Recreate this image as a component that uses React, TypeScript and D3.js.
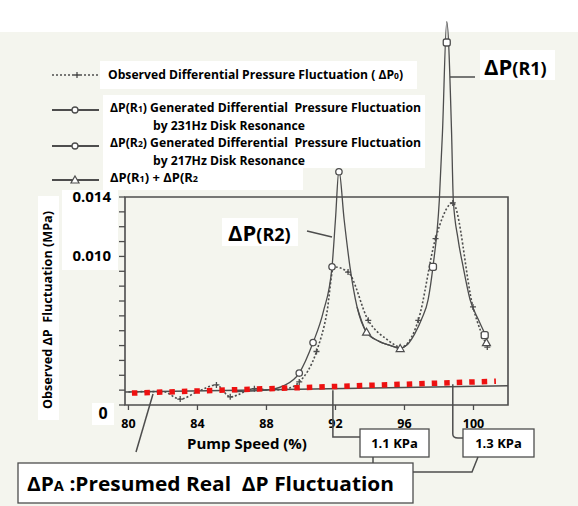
import React from 'react';
import * as d3 from 'd3';

// pump speed (%) / differential pressure (MPa)
const observed: [number, number][] = [
  [80, 0.00088], [81, 0.0009], [82, 0.0009], [83, 0.0004], [84, 0.0009],
  [85.1, 0.00135], [85.9, 0.00055], [87.3, 0.0011], [88.3, 0.001], [89.2, 0.0011],
  [89.9, 0.00155], [90.9, 0.0036], [91.5, 0.0062], [91.9, 0.0093], [92.73, 0.00895],
  [93.9, 0.0057], [95, 0.0044], [95.8, 0.0039], [96.8, 0.0057], [97.8, 0.0112],
  [98.8, 0.0136], [99.97, 0.0066], [100.8, 0.0039],
];
const observedMarks = [83, 85.1, 85.9, 87.3, 89.9, 90.9, 92.73, 93.9, 96.8, 97.8, 98.8, 99.97, 100.8];

const r2Curve: [number, number][] = [
  [86, 0.0009], [88, 0.001], [89, 0.0013], [89.9, 0.00215], [90.7, 0.0042],
  [91.3, 0.0063], [91.8, 0.0093], [92.0, 0.0125], [92.2, 0.0158], [92.5, 0.0125],
  [92.84, 0.0093], [93.25, 0.0066], [93.8, 0.0049], [94.5, 0.0043], [95.2, 0.004],
  [95.75, 0.0038],
];
const r2Marks: [number, number][] = [[89.9, 0.00215], [90.7, 0.0042], [91.8, 0.0093], [92.2, 0.0157]];

const r1Curve: [number, number][] = [
  [95.75, 0.0038], [96.2, 0.0041], [96.6, 0.0048], [97.0, 0.0058], [97.37, 0.0071],
  [97.65, 0.0093], [98.02, 0.0138], [98.2, 0.0183], [98.45, 0.0258], [98.73, 0.0183],
  [98.83, 0.0138], [99.1, 0.0112], [99.4, 0.0093], [99.8, 0.0071], [100.3, 0.0057],
  [100.7, 0.0047],
];
const r1Marks: [number, number][] = [[97.65, 0.0093], [98.45, 0.0244], [100.65, 0.0047]];

const sumCurve: [number, number][] = [
  [93.25, 0.0066], [93.8, 0.0049], [94.5, 0.0043], [95.2, 0.004], [95.75, 0.0038], [96.2, 0.0041],
];
const sumMarks: [number, number][] = [[93.8, 0.0049], [95.75, 0.0038], [100.75, 0.0042]];

const baseline: [number, number][] = [[79.8, 0.00087], [102, 0.0013]];
const presumed: [number, number][] = [[80.2, 0.0008], [101.3, 0.0016]];

const yTicks = d3.range(0, 0.01401, 0.001);
const yLabels = [0.014, 0.01];
const xLabels = [80, 84, 88, 92, 96, 100];

const INK = '#4d4d4d';
const FONT = '"Open Sans", "Liberation Sans", sans-serif';
const PRE = { whiteSpace: 'pre' } as React.CSSProperties;

function Tri({ cx, cy }: { cx: number; cy: number }) {
  return <path d={`M${cx},${cy - 4}L${cx + 4},${cy + 3}L${cx - 4},${cy + 3}Z`} fill="#fff" stroke={INK} strokeWidth={1.2} />;
}
function Plus({ cx, cy }: { cx: number; cy: number }) {
  return <path d={`M${cx - 3},${cy}H${cx + 3}M${cx},${cy - 3}V${cy + 3}`} stroke={INK} strokeWidth={1.3} />;
}

export default function App() {
  const x = d3.scaleLinear().domain([79.8, 102]).range([125, 508]);
  const y = d3.scaleLinear().domain([0, 0.014]).range([405, 197]);
  const line = d3.line<[number, number]>().x(d => x(d[0])).y(d => y(d[1])).curve(d3.curveMonotoneX);
  const straight = d3.line<[number, number]>().x(d => x(d[0])).y(d => y(d[1]));

  const legendRows = [
    { y: 75, kind: 'obs' },
    { y: 110, kind: 'circ' },
    { y: 146, kind: 'circ' },
    { y: 180, kind: 'tri' },
  ];

  return (
    <svg width={578} height={506} style={{ position: 'absolute', left: 0, top: 0 }} fontFamily={FONT}>
      <rect x={0} y={0} width={578} height={506} fill="#fff" />
      <rect x={0} y={32} width={578} height={474} fill="#f4f5ee" />

      {/* white label boxes */}
      <rect x={100} y={61} width={317} height={28} fill="#fff" />
      <rect x={103} y={95} width={322} height={73} fill="#fff" />
      <rect x={103} y={168} width={200} height={22} fill="#fff" />
      <rect x={38} y={196} width={21} height={224} fill="#fff" />
      <rect x={62} y={190} width={56} height={80} fill="#fff" />
      <rect x={92} y={403} width={22} height={22} fill="#fff" />
      <rect x={480} y={50} width={75} height={30} fill="#fff" />
      <rect x={222} y={218} width={76} height={28} fill="#fff" />

      {/* frame */}
      <path d={`M${x.range()[0]},${y(0.014)}H${x.range()[1]}V${y(0)}H${x.range()[0]}Z`} fill="none" stroke={INK} strokeWidth={1.6} />
      {yTicks.map(t => (
        <line key={t} x1={119} x2={125} y1={y(t)} y2={y(t)} stroke={INK} strokeWidth={1.3} />
      ))}
      {xLabels.map(t => (
        <line key={t} x1={x(t)} x2={x(t)} y1={y(0)} y2={y(0) + 5} stroke={INK} strokeWidth={1.3} />
      ))}

      {/* axis labels */}
      {yLabels.map(t => (
        <text key={t} x={111} y={y(t) + 5} textAnchor="end" fontSize={15} fontWeight={700}>{d3.format('.3f')(t)}</text>
      ))}
      <text x={103} y={419} textAnchor="middle" fontSize={16} fontWeight={700}>0</text>
      {xLabels.map(t => (
        <text key={t} x={x(t)} y={428} textAnchor="middle" fontSize={12.5} fontWeight={700}>{t}</text>
      ))}
      <text x={247} y={449} textAnchor="middle" fontSize={15} fontWeight={700}>Pump Speed (%)</text>
      <text transform="translate(52,310) rotate(-90)" textAnchor="middle" fontSize={11.5} fontWeight={700}
        textLength={198} lengthAdjust="spacingAndGlyphs" style={PRE}>Observed ΔP  Fluctuation (MPa)</text>

      {/* baseline and presumed real fluctuation */}
      <path d={straight(baseline) ?? ''} fill="none" stroke={INK} strokeWidth={1.5} />

      {/* curves */}
      <path d={line(observed) ?? ''} fill="none" stroke={INK} strokeWidth={1.6} strokeDasharray="2 2" />
      <path d={line(r2Curve) ?? ''} fill="none" stroke={INK} strokeWidth={1.3} />
      <path d={line(r1Curve) ?? ''} fill="none" stroke={INK} strokeWidth={1.3} />
      <path d={line(sumCurve) ?? ''} fill="none" stroke={INK} strokeWidth={1.3} />
      {observedMarks.map(s => {
        const p = observed.find(d => d[0] === s)!;
        return <Plus key={s} cx={x(p[0])} cy={y(p[1])} />;
      })}
      {r2Marks.map((d, i) => <circle key={i} cx={x(d[0])} cy={y(d[1])} r={3.2} fill="#fff" stroke={INK} strokeWidth={1.3} />)}
      {r1Marks.map((d, i) => <rect key={i} x={x(d[0]) - 3.5} y={y(d[1]) - 3.5} width={7} height={7} rx={2} fill="#fff" stroke={INK} strokeWidth={1.3} />)}
      {sumMarks.map((d, i) => <Tri key={i} cx={x(d[0])} cy={y(d[1])} />)}

      <path d={straight(presumed) ?? ''} fill="none" stroke="#ee1111" strokeWidth={5.5} strokeDasharray="5.5 7" />

      {/* legend */}
      {legendRows.map((r, i) => (
        <g key={i}>
          <line x1={52} x2={99} y1={r.y} y2={r.y} stroke={INK} strokeWidth={r.kind === 'obs' ? 1.6 : 2}
            strokeDasharray={r.kind === 'obs' ? '2 2' : undefined} />
          {r.kind === 'obs' && <Plus cx={77} cy={r.y} />}
          {r.kind === 'circ' && <circle cx={75} cy={r.y} r={3} fill="#fff" stroke={INK} strokeWidth={1.3} />}
          {r.kind === 'tri' && <Tri cx={75} cy={r.y} />}
        </g>
      ))}
      <g fontSize={11.5} fontWeight={700}>
        <text x={108} y={79} textLength={295} lengthAdjust="spacingAndGlyphs">
          Observed Differential Pressure Fluctuation ( ΔP<tspan fontSize={8}>0</tspan>)
        </text>
        <text x={110} y={112} textLength={311} lengthAdjust="spacingAndGlyphs" style={PRE}>
          ΔP(R<tspan fontSize={8}>1</tspan>) Generated Differential  Pressure Fluctuation
        </text>
        <text x={153} y={130} textLength={152} lengthAdjust="spacingAndGlyphs">by 231Hz Disk Resonance</text>
        <text x={110} y={147} textLength={311} lengthAdjust="spacingAndGlyphs" style={PRE}>
          ΔP(R<tspan fontSize={8}>2</tspan>) Generated Differential  Pressure Fluctuation
        </text>
        <text x={153} y={165} textLength={152} lengthAdjust="spacingAndGlyphs">by 217Hz Disk Resonance</text>
        <text x={110} y={182} textLength={88} lengthAdjust="spacingAndGlyphs">
          ΔP(R<tspan fontSize={8}>1</tspan>) + ΔP(R<tspan fontSize={8}>2</tspan>
        </text>
      </g>

      {/* resonance labels */}
      <text x={484} y={75} fontSize={22} fontWeight={700}>ΔP<tspan fontSize={18}>(R1)</tspan></text>
      <line x1={450} x2={475} y1={77} y2={77} stroke={INK} strokeWidth={1.5} />
      <text x={228} y={241} fontSize={22} fontWeight={700}>ΔP<tspan fontSize={18}>(R2)</tspan></text>
      <line x1={307} x2={332} y1={231} y2={237} stroke={INK} strokeWidth={1.5} />

      {/* KPa annotations */}
      <path d={`M${x(91.85)},${y(0.001)}V437H360`} fill="none" stroke={INK} strokeWidth={1.5} />
      <path d={`M${x(98.8)},${y(0.0014)}V434Q${x(98.8)},438 458,438H463`} fill="none" stroke={INK} strokeWidth={1.5} />
      <rect x={360} y={429} width={69} height={28} fill="#fff" stroke={INK} strokeWidth={1.3} />
      <text x={394.5} y={448} textAnchor="middle" fontSize={13} fontWeight={700}>1.1 KPa</text>
      <rect x={463} y={429} width={71} height={28} fill="#fff" stroke={INK} strokeWidth={1.3} />
      <text x={498.5} y={448} textAnchor="middle" fontSize={13} fontWeight={700}>1.3 KPa</text>
      <path d="M373,457V463" stroke={INK} strokeWidth={1.5} />
      <path d="M413,472H472L478,457" fill="none" stroke={INK} strokeWidth={1.5} />

      {/* presumed real label */}
      <path d={`M153,394L136,452`} stroke={INK} strokeWidth={1.5} />
      <rect x={18} y={463} width={395} height={40} fill="#fff" stroke={INK} strokeWidth={1.3} />
      <text x={27} y={491} fontSize={20} fontWeight={700} textLength={367} lengthAdjust="spacingAndGlyphs" style={PRE}>
        ΔP<tspan fontSize={14}>A</tspan> :Presumed Real  ΔP Fluctuation
      </text>
    </svg>
  );
}
